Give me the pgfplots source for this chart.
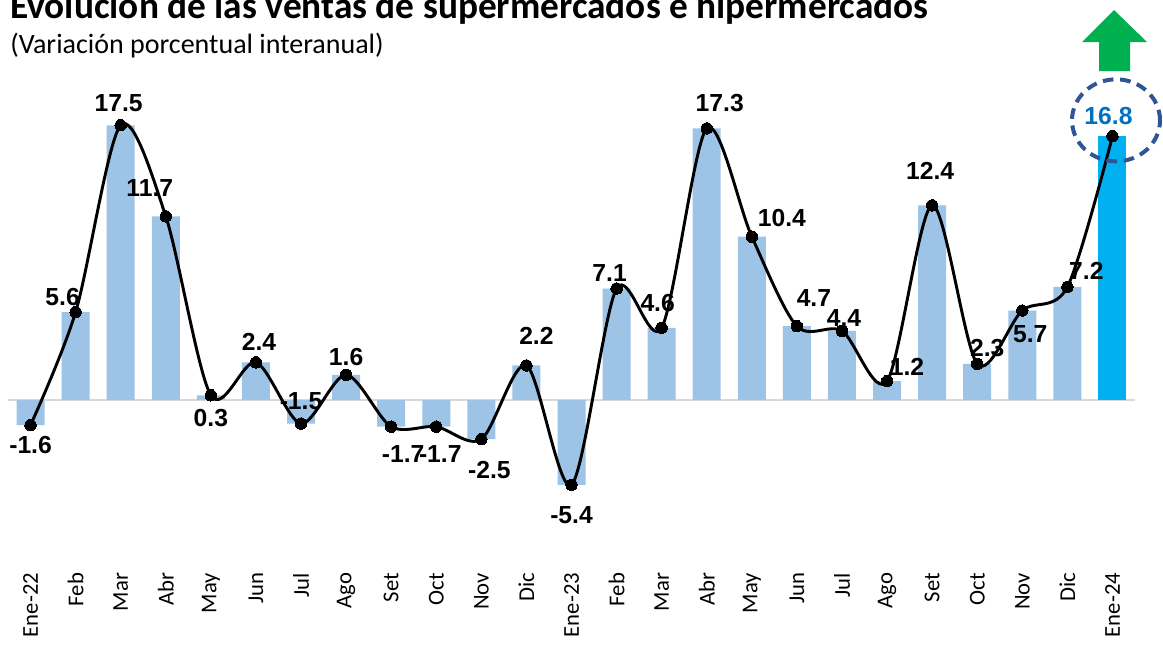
\documentclass[border=0pt]{standalone}
\usepackage{fontspec}
\setmainfont{Carlito}
\newfontfamily\arialf{Liberation Sans}
\usepackage{pgfplots}
\pgfplotsset{compat=1.18}
\usepackage{pgfplotstable}
\definecolor{barblue}{RGB}{157,195,230}
\definecolor{lastbar}{RGB}{0,176,240}
\definecolor{lblblue}{RGB}{0,112,192}
\definecolor{ringblue}{RGB}{47,85,151}
\definecolor{upgreen}{RGB}{0,176,80}
\definecolor{zerogray}{RGB}{217,217,217}

% x, value, label offsets (pt)
\pgfplotstableread{
x y dx dy
0 -1.6 0 -15
1 5.6 -9.75 11.25
2 17.5 -1.5 16.5
3 11.7 -12 21
4 0.3 0 -17.25
5 2.4 2.25 15
6 -1.5 0 16.5
7 1.6 0 13.5
8 -1.7 9 -20.25
9 -1.7 3 -20.25
10 -2.5 6 -23.25
11 2.2 7.5 22.5
12 -5.4 0 -22.5
13 7.1 -5.25 12
14 4.6 -3 18.75
15 17.3 9.75 18.75
16 10.4 22.5 14.25
17 4.7 12.75 21
18 4.4 1.5 9.75
19 1.2 15 10.5
20 12.4 -1.5 25.5
21 2.3 7.5 12
22 5.7 6 -18
23 7.2 14.25 12
24 16.8 -3 15
}\datatab

\begin{document}
\begin{tikzpicture}
\path[use as bounding box] (0,0) rectangle (872.25pt,-487.5pt);
\begin{axis}[
    at={(6pt,-429.5pt)}, anchor=south west,
    scale only axis, width=845.25pt, height=365pt,
    xmin=-0.5, xmax=24.5, ymin=-11, ymax=20,
    clip=false,
    axis line style={draw=none},
    major tick length=0pt,
    ytick=\empty,
    xtick={0,...,24},
    xticklabels={Ene-22,Feb,Mar,Abr,May,Jun,Jul,Ago,Set,Oct,Nov,Dic,Ene-23,Feb,Mar,Abr,May,Jun,Jul,Ago,Set,Oct,Nov,Dic,Ene-24},
    xticklabel style={rotate=90, anchor=east, inner sep=0pt, font=\fontsize{17}{17}\selectfont},
    extra y ticks={0}, extra y tick labels={},
    extra y tick style={ymajorgrids=true, major grid style={draw=zerogray, line width=1.5pt}},
]
\addplot[ybar, bar width=21pt, bar shift=0pt, fill=barblue, draw=none, restrict x to domain=0:23.5] table[x=x,y=y]{\datatab};
\addplot[ybar, bar width=21pt, bar shift=0pt, fill=lastbar, draw=none, restrict x to domain=23.5:24.5] table[x=x,y=y]{\datatab};
% data labels
\addplot[draw=none, mark=none, restrict x to domain=0:23.5,
    visualization depends on={\thisrow{dx} \as \lx},
    visualization depends on={\thisrow{dy} \as \ly},
    point meta=explicit symbolic,
    nodes near coords,
    nodes near coords style={anchor=center, inner sep=0pt, xshift=\lx pt, yshift=\ly pt, font=\arialf\bfseries\fontsize{18.5}{18.5}\selectfont, text=black},
] table[x=x,y=y,meta=y]{\datatab};
\addplot[draw=none, mark=none, restrict x to domain=23.5:24.5,
    visualization depends on={\thisrow{dx} \as \lx},
    visualization depends on={\thisrow{dy} \as \ly},
    point meta=explicit symbolic,
    nodes near coords,
    nodes near coords style={anchor=center, inner sep=0pt, xshift=\lx pt, yshift=\ly pt, font=\arialf\bfseries\fontsize{18.5}{18.5}\selectfont, text=lblblue},
] table[x=x,y=y,meta=y]{\datatab};
\addplot[black, line width=2.2pt, smooth, mark=*, mark size=4.3pt, mark options={fill=black, line width=0pt}] table[x=x,y=y]{\datatab};
\end{axis}
% title and subtitle
\node[anchor=base west, inner sep=0pt, font=\bfseries\fontsize{28}{28}\selectfont] at (7.5pt,-13.5pt) {Evolución de las ventas de supermercados e hipermercados};
\node[anchor=base west, inner sep=0pt, font=\fontsize{21}{21}\selectfont] at (7.5pt,-39.75pt) {(Variación porcentual interanual)};
% highlight ring and arrow
\draw[ringblue, line width=3pt, dash pattern=on 8pt off 5pt] (837pt,-90.25pt) ellipse [x radius=33pt, y radius=30.75pt];
\fill[upgreen] (835.5pt,-7.5pt) -- (860.25pt,-31.5pt) -- (847.5pt,-31.5pt) -- (847.5pt,-53.25pt) -- (824.25pt,-53.25pt) -- (824.25pt,-31.5pt) -- (811.5pt,-31.5pt) -- cycle;
\end{tikzpicture}
\end{document}
